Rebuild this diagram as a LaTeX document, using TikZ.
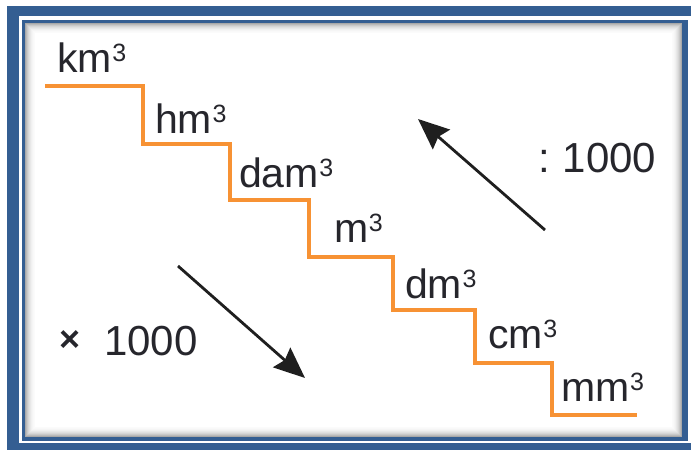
\documentclass[tikz,border=0pt]{standalone}
\usepackage{fontspec}
\setmainfont{Liberation Sans}
\usetikzlibrary{arrows.meta}
\definecolor{framebl}{RGB}{52,94,146}
\definecolor{stair}{RGB}{247,146,52}
\definecolor{txt}{RGB}{38,38,44}
\tikzset{
  unit/.style={inner sep=0pt, anchor=base west, text=txt, font=\fontsize{41}{46}\selectfont},
  lbl/.style={inner sep=0pt, anchor=base west, text=txt, font=\fontsize{42}{46}\selectfont},
  stairline/.style={draw=stair, line width=3.2pt},
  bigarrow/.style={draw=black!88, line width=2.8pt, -{Stealth[length=31pt,width=26pt,inset=4pt]}}
}
\newcommand{\cube}[1]{#1\kern0.5pt\raisebox{10.5pt}{\fontsize{25}{25}\selectfont 3}}
\begin{document}
\begin{tikzpicture}[x=1pt,y=-1pt]
\useasboundingbox (0,0) rectangle (691,450);
\fill[white] (0,0) rectangle (691,450);
% outer frame
\fill[framebl] (7,6) rectangle (691,450);
\fill[white] (19,16) rectangle (691,443);
% inner frame
\fill[framebl] (22,20) rectangle (688,441);
\fill[white] (25,23) rectangle (682,437);
% inner shadow
\foreach \i/\o in {0/0.34,1/0.27,2/0.21,3/0.16,4/0.12,5/0.09,6/0.06,7/0.04,8/0.025,9/0.015}{
  \draw[black, opacity=\o, line width=1pt] (25.5+\i,23.5+\i) rectangle (681.5-\i,436.5-\i);
}
% staircase
\coordinate (s0) at (45,86);
\coordinate (s1) at (143,86);
\coordinate (s2) at (143,144);
\coordinate (s3) at (230,144);
\coordinate (s4) at (230,200);
\coordinate (s5) at (309,200);
\coordinate (s6) at (309,257);
\coordinate (s7) at (393,257);
\coordinate (s8) at (393,310);
\coordinate (s9) at (475,310);
\coordinate (s10) at (475,363);
\coordinate (s11) at (552,363);
\coordinate (s12) at (552,415);
\coordinate (s13) at (637,415);
\draw[stairline] (s0)--(s1)--(s2)--(s3)--(s4)--(s5)--(s6)--(s7)--(s8)--(s9)--(s10)--(s11)--(s12)--(s13);
% unit labels
\node[unit] (km) at (57,72) {\cube{km}};
\node[unit] (hm) at (155,133) {\cube{hm}};
\node[unit] (dam) at (239,187) {\cube{dam}};
\node[unit] (m) at (334,242) {\cube{m}};
\node[unit] (dm) at (405,298) {\cube{dm}};
\node[unit] (cm) at (488,348) {\cube{cm}};
\node[unit] (mm) at (561,401) {\cube{mm}};
% arrows
\coordinate (upT) at (545,230);
\coordinate (upH) at (418,119);
\coordinate (dnT) at (178,266);
\coordinate (dnH) at (305,378);
\draw[bigarrow] (upT) -- (upH);
\draw[bigarrow] (dnT) -- (dnH);
% factors
\node[lbl] (div) at (538,172) {:\hspace{13pt}1000};
\node[inner sep=0pt, anchor=base west, text=txt, font=\bfseries\fontsize{36}{36}\selectfont] (times) at (59,351) {×};
\node[lbl] (mul) at (104,355) {1000};
\end{tikzpicture}
\end{document}
